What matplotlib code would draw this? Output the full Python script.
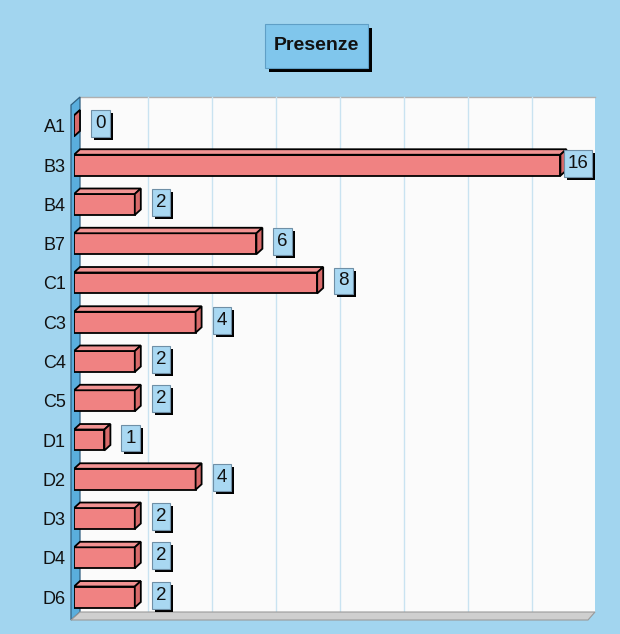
import matplotlib
matplotlib.use("Agg")
import matplotlib.pyplot as plt
from matplotlib.patches import Polygon, Rectangle
import numpy as np

categories = ["A1", "B3", "B4", "B7", "C1", "C3", "C4", "C5", "D1", "D2", "D3", "D4", "D6"]
values = [0, 16, 2, 6, 8, 4, 2, 2, 1, 4, 2, 2, 2]
title = "Presenze"

W, H = 620, 634
BG = "#a2d5ef"
plt.rcParams['font.family'] = ['Liberation Sans', 'DejaVu Sans']
fig = plt.figure(figsize=(W / 100, H / 100), dpi=100, facecolor=BG)

def fp(x, y):
    return (x / W, 1 - y / H)

def fpoly(pts, **kw):
    p = Polygon([fp(x, y) for x, y in pts], closed=True, transform=fig.transFigure, **kw)
    fig.add_artist(p)
    return p

# back plane
fpoly([(80, 97), (595, 97), (595, 612), (80, 612)], facecolor="#fbfbfb", edgecolor="none", zorder=-3)
fig.add_artist(plt.Line2D([80 / W, 595 / W], [1 - 97 / H, 1 - 97 / H], transform=fig.transFigure,
                          color="#b0b0b0", lw=1, zorder=-2))
for gx in [148, 212, 276, 340, 404, 468, 532]:
    fig.add_artist(plt.Line2D([gx / W, gx / W], [1 - 97 / H, 1 - 612 / H], transform=fig.transFigure,
                              color="#c9e3f1", lw=1, zorder=-2))
# left wall
fpoly([(71, 105), (80, 97), (80, 612), (71, 620)], facecolor="#5aaedd", edgecolor="#2f5f80", lw=0.9, zorder=-1)
# floor
fpoly([(71, 620), (80, 612), (595, 612), (588, 620)], facecolor="#cfcfcf", edgecolor="#9a9a9a", lw=0.8, zorder=-1)

# title box
fpoly([(269, 28), (372, 28), (372, 72), (269, 72)], facecolor="black", edgecolor="none", zorder=-1)
fpoly([(265, 24), (368, 24), (368, 68), (265, 68)], facecolor="#80c6ec", edgecolor="#5f9fc6", lw=0.8, zorder=-1)
fig.text(316.5 / W, 1 - 46 / H, title, ha="center", va="center",
         fontsize=14, fontweight="bold", color="#111111")

# axes in front plane
L, R, T, B = 74, 589, 102, 617
ax = fig.add_axes([L / W, 1 - B / H, (R - L) / W, (B - T) / H])
ax.set_facecolor("none")
xscale = 30.4  # px per unit
yscale = 39.3
xmax = (R - L) / xscale
ax.set_xlim(0, xmax)
ax.set_ylim(12 + (B - 597) / yscale, -(126 - T) / yscale)
for s in ax.spines.values():
    s.set_visible(False)
ax.set_xticks([])
ax.set_yticks(range(len(categories)))
ax.set_yticklabels(categories, fontsize=13, color="#111111")
ax.tick_params(axis="y", length=0, pad=6)

h = 21 / yscale
dx = 6 / xscale
dy = 5.5 / yscale
ypos = np.arange(len(categories))
ax.barh(ypos, values, height=h, left=0, color="#f08282", edgecolor="black", linewidth=1.3, zorder=3)
for y, v in zip(ypos, values):
    top = y - h / 2
    bot = y + h / 2
    ax.add_patch(Polygon([(0, top), (v, top), (v + dx, top - dy), (dx, top - dy)], closed=True,
                         facecolor="#f29393", edgecolor="black", lw=1.3, zorder=3))
    ax.add_patch(Polygon([(v, top), (v + dx, top - dy), (v + dx, bot - dy), (v, bot)], closed=True,
                         facecolor="#d86a6a", edgecolor="black", lw=1.3, zorder=3))
    s = str(v)
    bw = (9 + 9.5 * len(s)) / xscale
    bh = 27 / yscale
    x0 = min(v + dx + 11 / xscale, (592 - L) / xscale - bw)
    yc = y - 2 / yscale
    ax.add_patch(Rectangle((x0 + 3 / xscale, yc - bh / 2 + 3 / yscale), bw, bh, facecolor="black",
                           edgecolor="none", zorder=4, clip_on=False))
    ax.add_patch(Rectangle((x0, yc - bh / 2), bw, bh, facecolor="#a9d8f2",
                           edgecolor="#6f8fa6", lw=0.8, zorder=5, clip_on=False))
    ax.text(x0 + bw / 2, yc, s, ha="center", va="center", fontsize=13.5, color="#111111",
            zorder=6, clip_on=False)

fig.savefig("out.png", dpi=100, facecolor=BG)
